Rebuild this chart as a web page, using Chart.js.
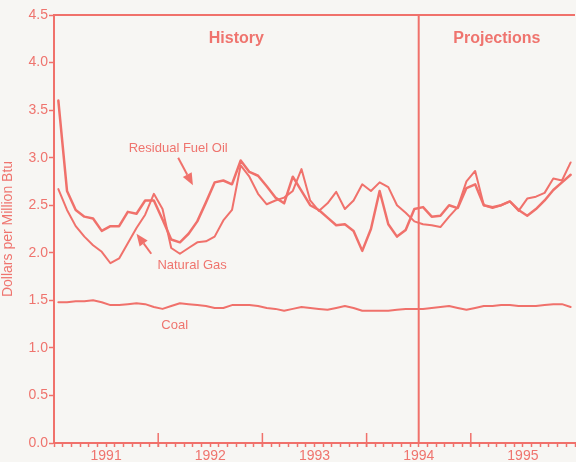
<!DOCTYPE html>
<html>
<head>
<meta charset="utf-8">
<title>Fuel Prices to Electric Utilities</title>
<script src="https://cdn.jsdelivr.net/npm/chart.js@4.4.1/dist/chart.umd.min.js"></script>
<style>
    html, body { margin: 0; padding: 0; background: #f7f6f3; }
    #wrap { width: 576px; height: 462px; }
</style>
</head>
<body>
<div id="wrap"><canvas id="fuelChart" width="576" height="462"></canvas></div>
<script>
// ================================
// Data (monthly, Jan 1991 - Dec 1995, $ per million Btu)
// ================================
const yearLabels = ['1991', '1992', '1993', '1994', '1995'];
const yTicks = [0, 0.5, 1, 1.5, 2, 2.5, 3, 3.5, 4, 4.5];

const residualOil = [
    3.60, 2.65, 2.45, 2.38, 2.36, 2.23, 2.28, 2.28, 2.43, 2.41, 2.55, 2.55,
    2.35, 2.14, 2.11, 2.20, 2.33, 2.53, 2.74, 2.76, 2.72, 2.97, 2.85, 2.81,
    2.70, 2.58, 2.52, 2.80, 2.65, 2.50, 2.45, 2.37, 2.29, 2.30, 2.23, 2.02,
    2.25, 2.65, 2.30, 2.17, 2.24, 2.46, 2.48, 2.38, 2.39, 2.50, 2.47, 2.68,
    2.72, 2.50, 2.48, 2.50, 2.54, 2.45, 2.39, 2.46, 2.55, 2.66, 2.74, 2.82
];

const naturalGas = [
    2.67, 2.45, 2.28, 2.17, 2.08, 2.01, 1.89, 1.94, 2.10, 2.26, 2.40, 2.62,
    2.46, 2.05, 1.99, 2.05, 2.11, 2.12, 2.17, 2.34, 2.45, 2.92, 2.80, 2.62,
    2.51, 2.55, 2.58, 2.65, 2.88, 2.55, 2.44, 2.52, 2.64, 2.46, 2.55, 2.72,
    2.65, 2.74, 2.69, 2.50, 2.42, 2.33, 2.30, 2.29, 2.27, 2.38, 2.48, 2.75,
    2.86, 2.50, 2.47, 2.50, 2.54, 2.44, 2.57, 2.59, 2.63, 2.78, 2.76, 2.95
];

const coal = [
    1.48, 1.48, 1.49, 1.49, 1.50, 1.48, 1.45, 1.45, 1.46, 1.47, 1.46, 1.43,
    1.41, 1.44, 1.47, 1.46, 1.45, 1.44, 1.42, 1.42, 1.45, 1.45, 1.45, 1.44,
    1.42, 1.41, 1.39, 1.41, 1.43, 1.42, 1.41, 1.40, 1.42, 1.44, 1.42, 1.39,
    1.39, 1.39, 1.39, 1.40, 1.41, 1.41, 1.41, 1.42, 1.43, 1.44, 1.42, 1.40,
    1.42, 1.44, 1.44, 1.45, 1.45, 1.44, 1.44, 1.44, 1.45, 1.46, 1.46, 1.43
];

const projectionStart = 42;          // months after Jan 1991 -> July 1994
const yearStarts = [12, 24, 36, 48]; // Jan 1992 ... Jan 1995

// ================================
// Styling
// ================================
const salmon = '#f0716b';
const textColor = '#ef746e';
const fontFamily = "'Liberation Sans', Arial, Helvetica, sans-serif";

const toPoints = arr => arr.map((v, i) => ({ x: i + 0.5, y: v }));

// labels / arrows in data coordinates (month, $)
const notes = [
    { text: 'History', x: projectionStart / 2, y: 4.25, bold: true },
    { text: 'Projections', x: (projectionStart + 60) / 2, y: 4.25, bold: true },
    { text: 'Residual Fuel Oil', x: 14.3, y: 3.10 },
    { text: 'Natural Gas', x: 15.9, y: 1.87 },
    { text: 'Coal', x: 13.9, y: 1.24 }
];
const arrows = [
    { from: [14.3, 3.00], to: [16.0, 2.71] },
    { from: [11.2, 1.99], to: [9.5, 2.20] }
];

function drawArrow(ctx, x0, y0, x1, y1) {
    const ang = Math.atan2(y1 - y0, x1 - x0);
    const headLen = 12, headW = 5;
    const bx = x1 - headLen * Math.cos(ang), by = y1 - headLen * Math.sin(ang);
    ctx.lineWidth = 2;
    ctx.beginPath(); ctx.moveTo(x0, y0); ctx.lineTo(bx, by); ctx.stroke();
    ctx.beginPath();
    ctx.moveTo(x1, y1);
    ctx.lineTo(bx + headW * Math.sin(ang), by - headW * Math.cos(ang));
    ctx.lineTo(bx - headW * Math.sin(ang), by + headW * Math.cos(ang));
    ctx.closePath();
    ctx.fill();
}

const decorations = {
    id: 'decorations',
    beforeDraw(chart) {
        const { ctx, width, height } = chart;
        ctx.save();
        ctx.fillStyle = '#f7f6f3';
        ctx.fillRect(0, 0, width, height);
        ctx.restore();
    },
    afterDatasetsDraw(chart) {
        const { ctx, chartArea: a, scales: { x, y } } = chart;
        ctx.save();
        ctx.strokeStyle = salmon;
        ctx.fillStyle = salmon;
        ctx.lineWidth = 2;

        // top frame line
        ctx.beginPath(); ctx.moveTo(a.left, a.top); ctx.lineTo(a.right, a.top); ctx.stroke();

        // history / projections divider
        const px = x.getPixelForValue(projectionStart);
        ctx.beginPath(); ctx.moveTo(px, a.top); ctx.lineTo(px, a.bottom); ctx.stroke();

        // long ticks at year boundaries
        ctx.lineWidth = 1.5;
        yearStarts.forEach(m => {
            const tx = x.getPixelForValue(m);
            ctx.beginPath(); ctx.moveTo(tx, a.bottom - 10); ctx.lineTo(tx, a.bottom + 4); ctx.stroke();
        });

        // text notes
        ctx.fillStyle = textColor;
        ctx.textAlign = 'center';
        ctx.textBaseline = 'middle';
        notes.forEach(n => {
            ctx.font = n.bold ? `bold 16px ${fontFamily}` : `13px ${fontFamily}`;
            ctx.fillText(n.text, x.getPixelForValue(n.x), y.getPixelForValue(n.y));
        });

        // arrows
        ctx.fillStyle = salmon;
        arrows.forEach(ar => {
            drawArrow(ctx,
                x.getPixelForValue(ar.from[0]), y.getPixelForValue(ar.from[1]),
                x.getPixelForValue(ar.to[0]), y.getPixelForValue(ar.to[1]));
        });
        ctx.restore();
    }
};

// ================================
// Chart
// ================================
new Chart(document.getElementById('fuelChart').getContext('2d'), {
    type: 'line',
    data: {
        datasets: [
            { label: 'Residual Fuel Oil', data: toPoints(residualOil), borderColor: salmon, borderWidth: 2.5 },
            { label: 'Natural Gas', data: toPoints(naturalGas), borderColor: salmon, borderWidth: 2 },
            { label: 'Coal', data: toPoints(coal), borderColor: salmon, borderWidth: 2 }
        ]
    },
    options: {
        responsive: false,
        animation: false,
        devicePixelRatio: 1,
        layout: { padding: { top: 15, right: 0, bottom: 0, left: 0 } },
        elements: {
            point: { radius: 0, hoverRadius: 0 },
            line: { tension: 0, borderJoinStyle: 'round', borderCapStyle: 'round' }
        },
        plugins: {
            legend: { display: false },
            tooltip: { enabled: false }
        },
        scales: {
            x: {
                type: 'linear',
                min: 0,
                max: 60,
                afterBuildTicks: s => { s.ticks = Array.from({ length: 61 }, (_, i) => ({ value: i })); },
                afterFit: s => { s.height = 19; },
                ticks: {
                    autoSkip: false,
                    maxRotation: 0,
                    padding: 1,
                    color: textColor,
                    font: { family: fontFamily, size: 14 },
                    callback: v => (v % 12 === 6 ? yearLabels[(v - 6) / 12] : '')
                },
                grid: { drawOnChartArea: false, tickLength: 4, tickColor: salmon, tickWidth: 1.5 },
                border: { color: salmon, width: 2 }
            },
            y: {
                min: 0,
                max: 4.5,
                afterBuildTicks: s => { s.ticks = yTicks.map(v => ({ value: v })); },
                afterFit: s => { s.width = 54; },
                ticks: {
                    padding: 1,
                    color: textColor,
                    font: { family: fontFamily, size: 14 },
                    callback: v => v.toFixed(1)
                },
                grid: { drawOnChartArea: false, tickLength: 5, tickColor: salmon, tickWidth: 1.5 },
                border: { color: salmon, width: 2 },
                title: {
                    display: true,
                    text: 'Dollars per Million Btu',
                    color: textColor,
                    font: { family: fontFamily, size: 14 },
                    padding: 0
                }
            }
        }
    },
    plugins: [decorations]
});
</script>
</body>
</html>
